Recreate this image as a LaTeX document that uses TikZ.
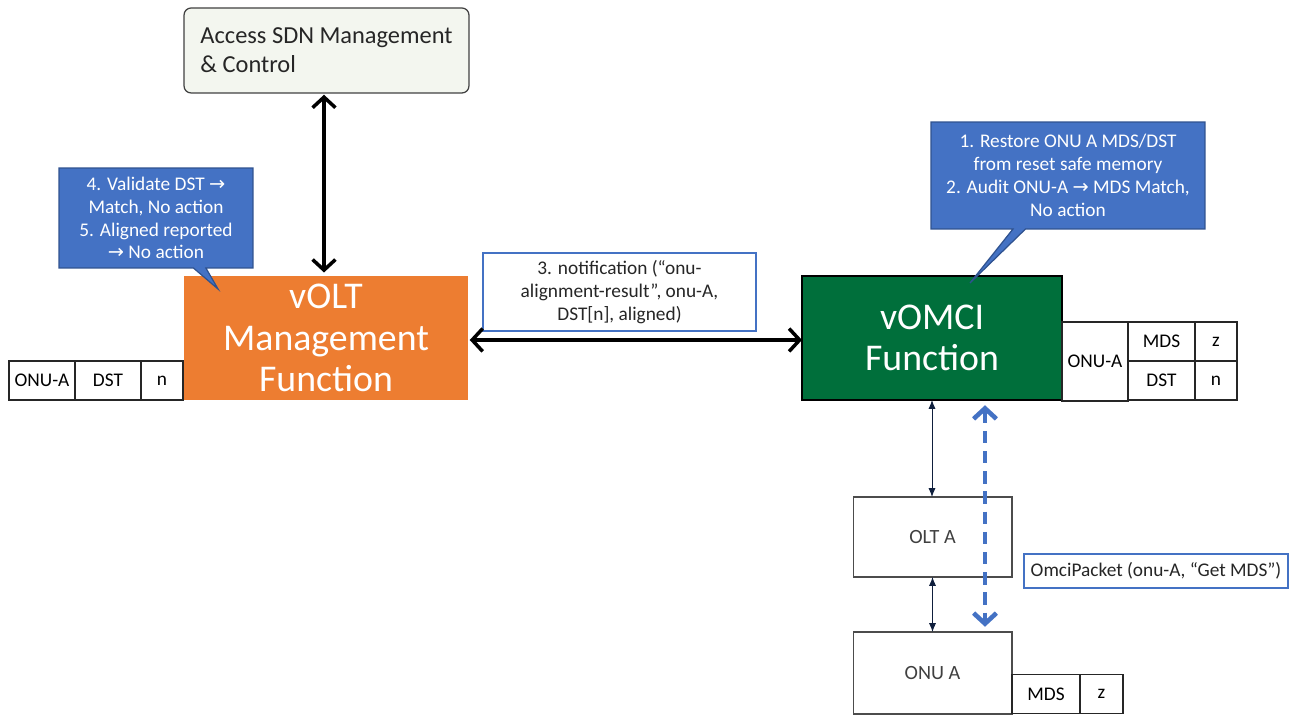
\documentclass[tikz,border=0pt]{standalone}
\usepackage{fontspec}
\setmainfont{Carlito}
\newfontfamily\arrowfont{DejaVu Sans}
\usetikzlibrary{positioning,shapes.callouts,arrows.meta}
\definecolor{voltorange}{HTML}{ED7D31}
\definecolor{vomcigreen}{HTML}{006F3B}
\definecolor{noteblue}{HTML}{4472C4}
\definecolor{noteedge}{HTML}{2F528F}
\definecolor{sdnfill}{HTML}{F3F6EF}
\definecolor{linknavy}{HTML}{0F1F3D}
\newcommand{\rarr}{{\arrowfont\fontsize{11}{13}\selectfont →}}
\begin{document}
\begin{tikzpicture}[x=0.02cm, y=-0.02cm,
    box/.style={rectangle, inner sep=0pt, outer sep=0pt, align=center},
    cell/.style={draw=black!85, line width=0.8pt, minimum height=0.78cm, inner sep=0pt, outer sep=0pt, text=black, font=\fontsize{11}{13}\selectfont},
    bigtext/.style={text=white, font=\fontsize{21.5}{23.6}\selectfont},
    bubble/.style={rectangle callout, fill=noteblue, draw=noteedge, line width=0.7pt, text=white, align=center, inner sep=0pt, font=\fontsize{11}{13}\selectfont},
    label box/.style={box, draw=noteblue, line width=0.8pt, fill=white, text=black!85, font=\fontsize{11}{13}\selectfont},
    boldarr/.style={<->, >={Straight Barb[length=6pt,width=13pt]}, line width=2pt, black},
    thinarr/.style={<->, >={Latex[length=5pt,width=4pt]}, line width=0.5pt, linknavy},
    omciarr/.style={<->, >={Straight Barb[length=6pt,width=13pt]}, line width=2.6pt, noteblue, dash pattern=on 7pt off 4.5pt}]
    % 1. Page frame
    \useasboundingbox (0,0) rectangle (1297,715);

    % 2. Main function boxes
    \node[box, draw=black!75, line width=0.7pt, fill=sdnfill, rounded corners=4pt, minimum width=5.7cm, minimum height=1.7cm,
          align=left, text=black!85, font=\fontsize{13.9}{16.4}\selectfont] (sdn) at (326.5,50.5)
        {Access SDN Management\\\& Control};
    \node[box, fill=voltorange, minimum width=5.68cm, minimum height=2.48cm, bigtext] (volt) at (326,338)
        {vOLT\\Management\\Function};
    \node[box, draw=black, line width=0.8pt, fill=vomcigreen, minimum width=5.2cm, minimum height=2.48cm, bigtext] (vomci) at (932,338)
        {vOMCI\\Function};
    \node[box, draw=black!70, line width=0.6pt, fill=white, minimum width=3.18cm, minimum height=1.6cm, text=black!75,
          font=\fontsize{11.5}{13}\selectfont] (olt) at (932.5,537) {OLT A};
    \node[box, draw=black!70, line width=0.6pt, fill=white, minimum width=3.18cm, minimum height=1.64cm, text=black!75,
          font=\fontsize{11.5}{13}\selectfont] (onu) at (932.5,673) {ONU A};

    % 3. Data tables
    % vOLT copy
    \node[cell, minimum width=1.32cm] (lonu) at (42,380.5) {ONU-A};
    \node[cell, minimum width=1.32cm, right=0pt of lonu] (ldst) {DST};
    \node[cell, minimum width=0.84cm, right=0pt of ldst] (ln) {n};
    % vOMCI copy
    \node[cell, minimum width=1.32cm, minimum height=1.58cm] (ronu) at (1095,361.5) {ONU-A};
    \node[cell, minimum width=1.34cm, anchor=north west] (rmds) at (ronu.north east) {MDS};
    \node[cell, minimum width=0.84cm, right=0pt of rmds] (rz) {z};
    \node[cell, minimum width=1.34cm, below=0pt of rmds] (rdst) {DST};
    \node[cell, minimum width=0.84cm, right=0pt of rdst] (rn) {n};
    % ONU copy
    \node[cell, minimum width=1.36cm] (omds) at (1046,694) {MDS};
    \node[cell, minimum width=0.86cm, right=0pt of omds] (oz) {z};

    % 4. Callouts and message labels
    \node[bubble, minimum width=3.88cm, minimum height=2cm, callout absolute pointer={(218,289)}] (leftnote) at (156,218)
        {4. Validate DST \rarr\\Match, No action\\5. Aligned reported\\\rarr{} No action};
    \node[bubble, minimum width=5.48cm, minimum height=2.14cm, callout absolute pointer={(970,283)}] (rightnote) at (1068,175.5)
        {1. Restore ONU A MDS/DST\\from reset safe memory\\2. Audit ONU-A \rarr{} MDS Match,\\No action};
    \node[label box, minimum width=5.46cm, minimum height=1.56cm] (notif) at (619.5,292)
        {3. notification (“onu-\\alignment-result”, onu-A,\\DST[n], aligned)};
    \node[label box, minimum width=5.28cm, minimum height=0.68cm] (omci) at (1156,571)
        {OmciPacket (onu-A, “Get MDS”)};

    % 5. Connectors
    \draw[boldarr, shorten <=1pt, shorten >=2pt] ([xshift=-0.05cm]sdn.south) -- ([xshift=-0.05cm]sdn.south |- volt.north);
    \draw[boldarr, shorten <=1pt, shorten >=0pt] ([yshift=-0.04cm]volt.east) -- ([yshift=-0.04cm]vomci.west);
    \draw[thinarr] (vomci.south) -- (vomci.south |- olt.north);
    \draw[thinarr] (olt.south) -- (olt.south |- onu.north);
    \draw[omciarr, shorten <=3pt, shorten >=3pt] ([xshift=1.06cm]vomci.south) -- ([xshift=1.06cm]vomci.south |- onu.north);
\end{tikzpicture}
\end{document}
